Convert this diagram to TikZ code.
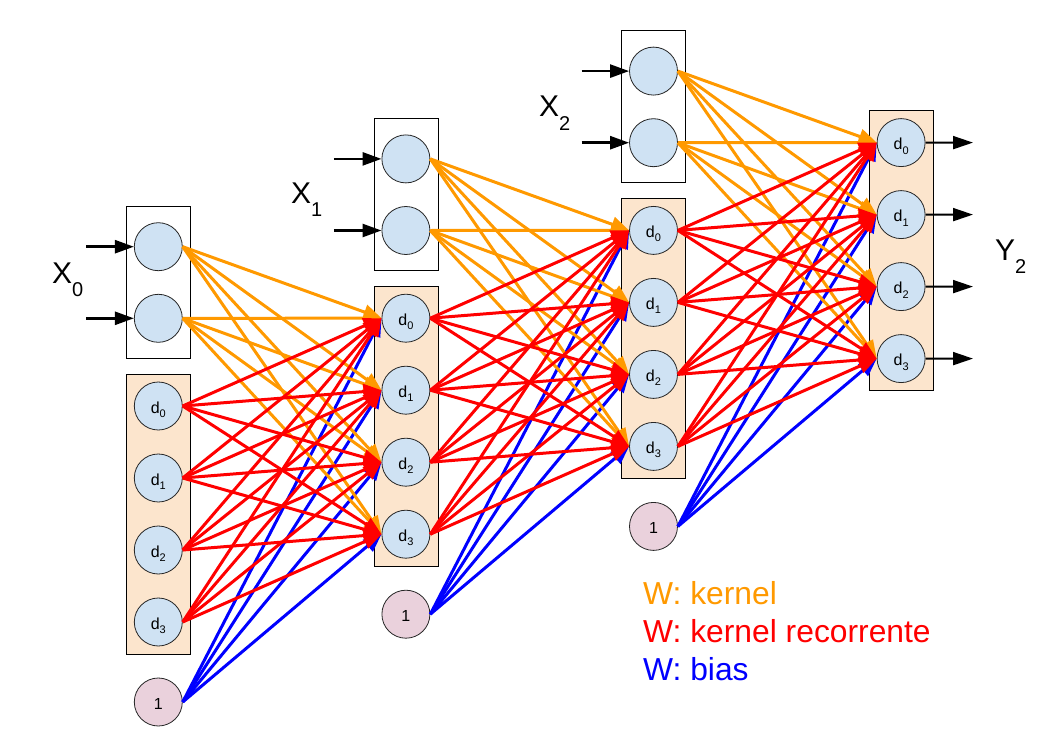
\documentclass[tikz,border=0pt]{standalone}
\usepackage{fontspec}
\setmainfont{Liberation Sans}
\usetikzlibrary{arrows.meta}
\definecolor{cfill}{HTML}{CFE2F3}
\definecolor{bfill}{HTML}{FCE5CD}
\definecolor{pfill}{HTML}{EAD1DC}
\definecolor{korange}{HTML}{FF9900}
\definecolor{kred}{HTML}{FF0000}
\definecolor{kblue}{HTML}{0000FF}
\newcommand{\dlab}[1]{d\raisebox{-4.5pt}{\fontsize{11}{11}\selectfont #1}}
\newcommand{\biglab}[2]{#1\raisebox{-13.5pt}{\fontsize{20}{20}\selectfont #2}}
\tikzset{
  neuron/.style={circle, draw=black!85, line width=0.8pt, fill=cfill, minimum size=48pt,
    inner sep=0pt, font=\fontsize{16}{16}\selectfont, text height=14pt, text depth=0pt},
  biasn/.style={neuron, fill=pfill},
  inbox/.style={draw=black, line width=0.8pt, fill=white, minimum width=64pt, minimum height=152pt, inner sep=0pt},
  stbox/.style={draw=black, line width=0.8pt, fill=bfill, minimum width=64pt, minimum height=280pt, inner sep=0pt},
  wconn/.style={line width=3pt, -{Triangle[length=18pt,width=15pt]}},
  inarr/.style={line width=2.6pt, black, -{Triangle[length=19pt,width=13pt]}},
  outarr/.style={line width=2pt, black, -{Triangle[length=20pt,width=13pt]}},
  biglabel/.style={anchor=base west, inner sep=0pt, font=\fontsize{30}{30}\selectfont},
  legend/.style={anchor=base west, inner sep=0pt, font=\fontsize{31.8}{31.8}\selectfont},
}
\begin{document}
\begin{tikzpicture}[x=1pt,y=-1pt]
\useasboundingbox (0,0) rectangle (1063,749);
% layers
\foreach \i in {0,1,2,3}{
  \pgfmathsetmacro\lx{158.3+247.6*\i}
  \pgfmathsetmacro\s{87.8*\i}
  \ifnum\i<3
    \node[inbox] (inbox\i) at (\lx, 282-\s) {};
    \node[neuron] (x\i-1) at (\lx, 246.7-\s) {};
    \node[neuron] (x\i-2) at (\lx, 318.3-\s) {};
    \coordinate (s\i-1) at (\lx-72, 246.7-\s);
    \coordinate (s\i-2) at (\lx-72, 318.3-\s);
    \draw[inarr] (s\i-1) -- (x\i-1.west);
    \draw[inarr] (s\i-2) -- (x\i-2.west);
    \node[biasn] (b\i) at (\lx, 702-\s) {1};
  \fi
  \node[stbox] (stbox\i) at (\lx, 514-\s) {};
  \foreach \k in {0,1,2,3}{
    \node[neuron] (d\i-\k) at (\lx, 406+72*\k-\s) {\dlab{\k}};
  }
}
% outputs
\foreach \k in {0,1,2,3}{
  \coordinate (o-\k) at (973, 142.6+72*\k);
  \draw[outarr] (d3-\k.east) -- (o-\k);
}
% connections
\foreach \i/\j in {0/1,1/2,2/3}{
  \foreach \k in {0,1,2,3}{
    \draw[wconn, kblue] (b\i.east) -- (d\j-\k.west);
  }
}
\foreach \i/\j in {0/1,1/2,2/3}{
  \foreach \k in {0,1,2,3}{
    \draw[wconn, korange] (x\i-1.east) -- (d\j-\k.west);
    \draw[wconn, korange] (x\i-2.east) -- (d\j-\k.west);
  }
}
\foreach \i/\j in {0/1,1/2,2/3}{
  \foreach \m in {0,1,2,3}{
    \foreach \k in {0,1,2,3}{
      \draw[wconn, kred] (d\i-\m.east) -- (d\j-\k.west);
    }
  }
}
% labels
\node[biglabel] (lx0) at (52,283) {\biglab{X}{0}};
\node[biglabel] (lx1) at (291,203) {\biglab{X}{1}};
\node[biglabel] (lx2) at (539,117) {\biglab{X}{2}};
\node[biglabel] (ly2) at (995,260) {\biglab{Y}{2}};
% legend
\node[legend, text=korange] (leg1) at (643,604) {W: kernel};
\node[legend, text=kred] (leg2) at (643,642) {W: kernel recorrente};
\node[legend, text=kblue] (leg3) at (643,680) {W: bias};
\end{tikzpicture}
\end{document}
